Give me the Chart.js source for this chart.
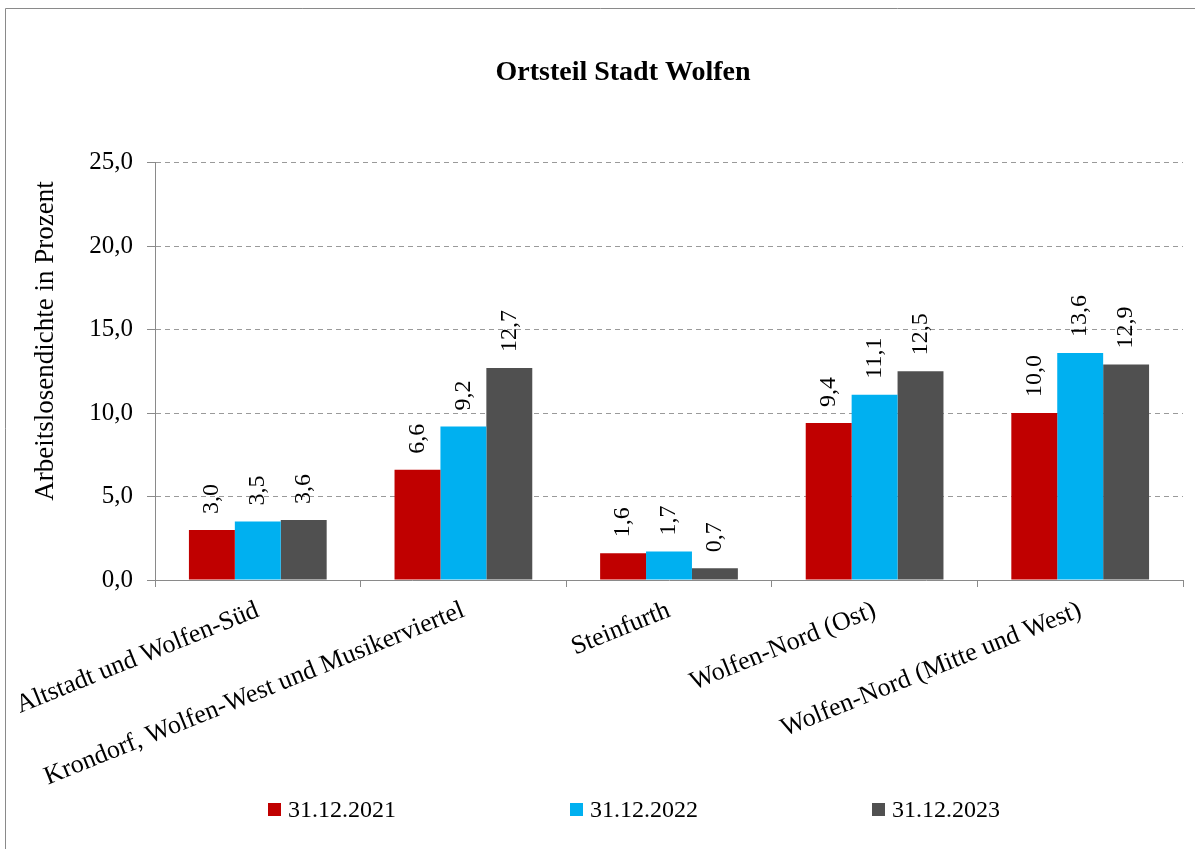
<!DOCTYPE html>
<html>
<head>
<meta charset="utf-8">
<script src="https://cdn.jsdelivr.net/npm/chart.js@4/dist/chart.umd.min.js"></script>
<style>
  html, body { margin: 0; padding: 0; background: #fff; }
  #chart { display: block; }
</style>
</head>
<body>
<canvas id="chart" width="1195" height="849"></canvas>
<script>
const categories = [
  'Altstadt und Wolfen-Süd',
  'Krondorf, Wolfen-West und Musikerviertel',
  'Steinfurth',
  'Wolfen-Nord (Ost)',
  'Wolfen-Nord (Mitte und West)',
];
const seriesNames = ['31.12.2021', '31.12.2022', '31.12.2023'];
const values2021 = [3.0, 6.6, 1.6, 9.4, 10.0];
const values2022 = [3.5, 9.2, 1.7, 11.1, 13.6];
const values2023 = [3.6, 12.7, 0.7, 12.5, 12.9];
const colors = ['#C00000', '#00B0F0', '#505050'];

const FONT = '"Liberation Serif", "Times New Roman", serif';
const fmt = v => v.toFixed(1).replace('.', ',');

// bar value labels, frame, y title and legend
const extras = {
  id: 'extras',
  beforeDraw(chart) {
    const ctx = chart.ctx;
    ctx.save();
    ctx.strokeStyle = '#8a8a8a';
    ctx.lineWidth = 1;
    ctx.beginPath();
    ctx.moveTo(5.5, chart.height);
    ctx.lineTo(5.5, 8.5);
    ctx.lineTo(chart.width, 8.5);
    ctx.stroke();
    ctx.restore();
  },
  afterDatasetsDraw(chart) {
    const ctx = chart.ctx;
    ctx.save();
    ctx.font = '24px ' + FONT;
    ctx.fillStyle = '#000';
    ctx.textAlign = 'left';
    ctx.textBaseline = 'middle';
    chart.data.datasets.forEach((ds, i) => {
      chart.getDatasetMeta(i).data.forEach((bar, j) => {
        ctx.save();
        ctx.translate(bar.x, bar.y - 16);
        ctx.rotate(-Math.PI / 2);
        ctx.fillText(fmt(ds.data[j]), 0, 0);
        ctx.restore();
      });
    });
    ctx.restore();
  },
  afterDraw(chart) {
    const ctx = chart.ctx;
    ctx.save();
    // y axis title
    ctx.font = '27px ' + FONT;
    ctx.fillStyle = '#000';
    ctx.textAlign = 'center';
    ctx.textBaseline = 'middle';
    ctx.translate(46, 341);
    ctx.rotate(-Math.PI / 2);
    ctx.fillText('Arbeitslosendichte in Prozent', 0, 0);
    ctx.restore();

    // legend
    ctx.save();
    ctx.font = '24px ' + FONT;
    ctx.textAlign = 'left';
    ctx.textBaseline = 'middle';
    const y = 810;
    chart.data.datasets.forEach((ds, i) => {
      const x = 268 + i * 302;
      ctx.fillStyle = ds.backgroundColor;
      ctx.fillRect(x, y - 7, 13, 13);
      ctx.fillStyle = '#000';
      ctx.fillText(ds.label, x + 20, y + 1);
    });
    ctx.restore();
  }
};

new Chart(document.getElementById('chart'), {
  type: 'bar',
  data: {
    labels: categories,
    datasets: [
      { label: seriesNames[0], data: values2021, backgroundColor: colors[0] },
      { label: seriesNames[1], data: values2022, backgroundColor: colors[1] },
      { label: seriesNames[2], data: values2023, backgroundColor: colors[2] },
    ],
  },
  options: {
    responsive: false,
    animation: false,
    layout: { padding: { top: 0, left: 63, right: 12, bottom: 0 } },
    datasets: {
      bar: { categoryPercentage: 0.67, barPercentage: 1.0 },
    },
    plugins: {
      legend: { display: false },
      tooltip: { enabled: false },
      title: {
        display: true,
        text: 'Ortsteil Stadt Wolfen',
        color: '#000',
        font: { family: FONT, size: 28, weight: 'bold' },
        padding: { top: 56, bottom: 73 },
      },
    },
    scales: {
      x: {
        grid: {
          drawOnChartArea: false,
          color: '#8a8a8a',
          tickLength: 7,
        },
        border: { color: '#8a8a8a' },
        ticks: {
          color: '#000',
          font: { family: FONT, size: 26 },
          minRotation: 22,
          maxRotation: 22,
          autoSkip: false,
          padding: 8,
        },
        afterFit(scale) {
          scale.height = 269;
          scale.paddingLeft = 0;
          scale.paddingRight = 0;
        },
      },
      y: {
        min: 0,
        max: 25,
        ticks: {
          stepSize: 5,
          color: '#000',
          font: { family: FONT, size: 25 },
          padding: 14,
          callback: v => fmt(v),
        },
        grid: {
          color: c => (c.tick && c.tick.value === 0 ? 'rgba(0,0,0,0)' : '#9a9a9a'),
          tickColor: '#8a8a8a',
          tickLength: 8,
          tickBorderDash: [],
        },
        border: { color: '#8a8a8a', dash: [5, 4] },
        afterFit(scale) {
          scale.width = 92;
        },
      },
    },
  },
  plugins: [extras],
});
</script>
</body>
</html>
